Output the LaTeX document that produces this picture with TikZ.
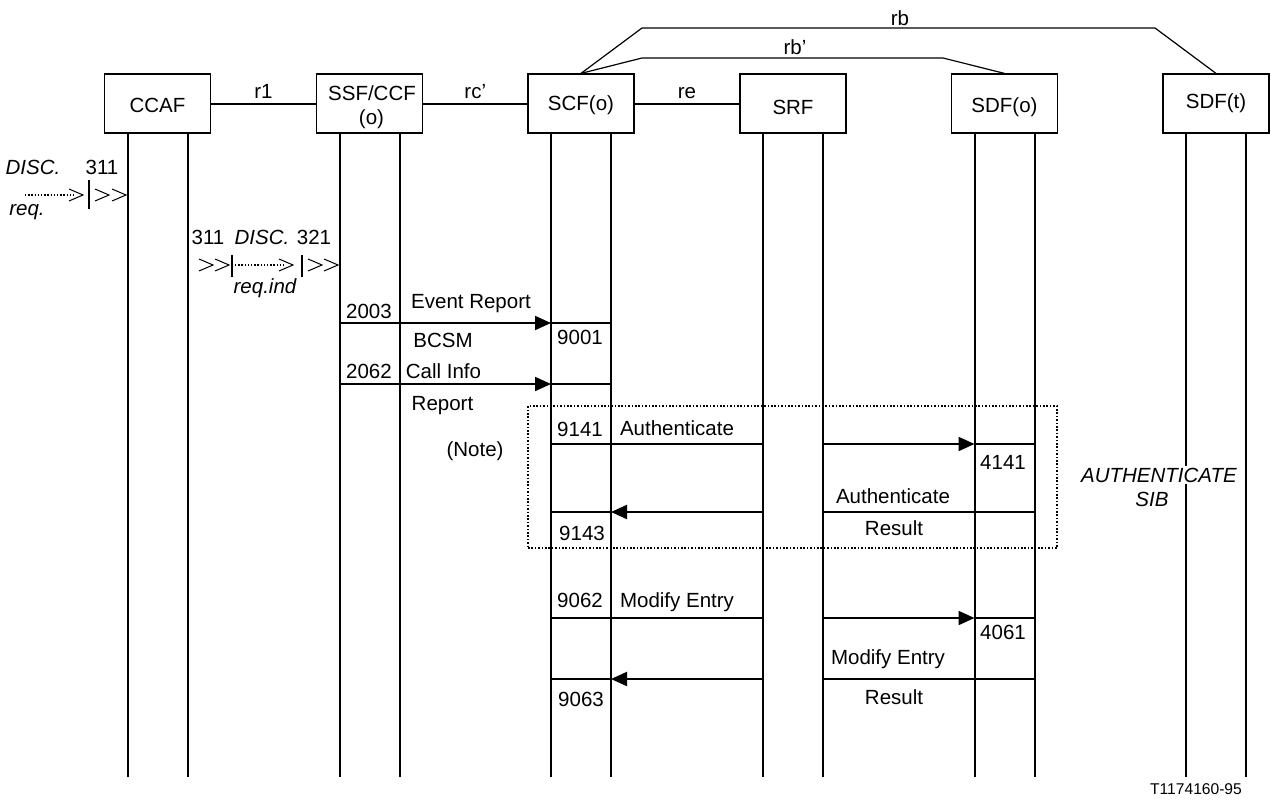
\documentclass[tikz,border=0pt]{standalone}
\usepackage{fontspec}
\setmainfont{Liberation Sans}
\usetikzlibrary{arrows.meta}
\newcommand\mainfs{\fontsize{20.5}{25}\selectfont}
\newcommand\smallfs{\fontsize{15.6}{18}\selectfont}
\begin{document}
\begin{tikzpicture}[x=1pt,y=-1pt,
  fe/.style={draw,line width=1.2pt,minimum width=106pt,minimum height=59pt,inner sep=0pt,font=\mainfs,text depth=0pt},
  life/.style={line width=2pt},
  msg/.style={line width=2pt},
  tipd/.style={-{Triangle[length=16pt,width=14pt]}},
  rel/.style={line width=2pt},
  rbl/.style={line width=1.2pt},
  lbl/.style={inner sep=0pt,font=\mainfs,text height=14.7pt,text depth=0pt},
  ilbl/.style={lbl,font=\mainfs\itshape},
  notebox/.style={draw,line width=1.6pt,dash pattern=on 1.6pt off 1.8pt,minimum width=529pt,minimum height=142pt,inner sep=0pt},
  dotl/.style={line width=1.4pt,dash pattern=on 1.4pt off 1.8pt},
  bar/.style={line width=2pt},
  chevron/.pic={\draw[line width=1pt] (-14,-6) -- (0,0) -- (-14,6);}
]
\fill[white] (0,0) rectangle (1271,800);
\useasboundingbox (0,0) rectangle (1271,800);

% functional entities
\node[fe,text height=17.7pt] (ccaf) at (157.5,103.5) {CCAF};
\node[fe] (ssf) at (369.5,103.5) {};
\node[lbl] (ssft1) at (372,93.5) {SSF/CCF};
\node[lbl] (ssft2) at (371.5,117) {(o)};
\node[fe,text height=13.7pt] (scf) at (581,103.5) {SCF(o)};
\node[fe,text height=21.7pt] (srf) at (793,103.5) {SRF};
\node[fe,text height=17.7pt] (sdfo) at (1004.5,103.5) {SDF(o)};
\node[fe,text height=9.7pt] (sdft) at (1216,103.5) {SDF(t)};

% relationships
\draw[rel] (ccaf.east) -- node[lbl,pos=0.5,yshift=12pt] (r1) {r1} (ssf.west);
\draw[rel] (ssf.east) -- node[lbl,pos=0.5,yshift=12pt] (rc) {rc'} (scf.west);
\draw[rel] (scf.east) -- node[lbl,pos=0.5,yshift=12pt] (re) {re} (srf.west);
\coordinate (rbA) at (642,28);
\coordinate (rbB) at (1155,28);
\coordinate (rbpA) at (642,58);
\coordinate (rbpB) at (943,58);
\draw[rbl] (scf.north) -- (rbA) -- (rbB) -- (sdft.north);
\draw[rbl] (scf.north) -- (rbpA) -- (rbpB) -- (sdfo.north);
\node[lbl] (rb) at (900,18) {rb};
\node[lbl] (rbp) at (795,47) {rb'};

% lifelines
\coordinate (bot) at (0,777);
\foreach \b in {ccaf,ssf,scf,srf,sdfo,sdft}{
  \coordinate (\b L) at ([xshift=-30pt]\b.south);
  \coordinate (\b R) at ([xshift=30pt]\b.south);
  \draw[life] (\b L) -- (\b L |- bot);
  \draw[life] (\b R) -- (\b R |- bot);
}

% note box
\node[notebox] (note) at (792.5,477) {};
\node[lbl] (notet) at (475,449) {(Note)};

% left side: DISC. req.
\node[ilbl] (disc1) at (33,167) {DISC.};
\node[lbl] (n311a) at (102,167) {311};
\node[ilbl] (req1) at (27,208) {req.};
\coordinate (d1a) at (25,195);
\coordinate (d1b) at (76,195);
\draw[dotl] (d1a) -- (d1b);
\pic at (83,195) {chevron};
\coordinate (b1t) at (89,180);
\coordinate (b1b) at (89,209);
\draw[bar] (b1t) -- (b1b);
\pic at (109,195) {chevron};
\pic at (126,195) {chevron};

\node[lbl] (n311b) at (208,237) {311};
\node[ilbl] (disc2) at (262,237) {DISC.};
\node[lbl] (n321) at (314,237) {321};
\node[ilbl] (reqind) at (265,286) {req.ind};
\pic at (213,265) {chevron};
\pic at (229,265) {chevron};
\coordinate (b2t) at (232,255);
\coordinate (b2b) at (232,277);
\draw[bar] (b2t) -- (b2b);
\coordinate (d2a) at (235,265);
\coordinate (d2b) at (286,265);
\draw[dotl] (d2a) -- (d2b);
\pic at (293,265) {chevron};
\coordinate (b3t) at (302,255);
\coordinate (b3b) at (302,277);
\draw[bar] (b3t) -- (b3b);
\pic at (322,265) {chevron};
\pic at (338,265) {chevron};

% message rows
\coordinate (m1) at (0,323);
\coordinate (m2) at (0,384);
\coordinate (m3) at (0,444);
\coordinate (m4) at (0,512);
\coordinate (m5) at (0,618);
\coordinate (m6) at (0,679);

% Event Report BCSM
\draw[msg,tipd] (ssfL |- m1) -- (scfL |- m1);
\draw[msg] (scfL |- m1) -- (scfR |- m1);
\node[lbl] (t2003) at (369,311) {2003};
\node[lbl] (ter) at (471,301) {Event Report};
\node[lbl] (tbcsm) at (443,340) {BCSM};
\node[lbl] (t9001) at (580,337) {9001};

% Call Info Report
\draw[msg,tipd] (ssfL |- m2) -- (scfL |- m2);
\draw[msg] (scfL |- m2) -- (scfR |- m2);
\node[lbl] (t2062) at (369,371) {2062};
\node[lbl] (tci) at (443.5,371) {Call Info};
\node[lbl] (trep) at (442.5,403) {Report};

% Authenticate
\draw[msg] (scfL |- m3) -- (srfL |- m3);
\draw[msg,tipd] (srfR |- m3) -- (sdfoL |- m3);
\draw[msg] (sdfoL |- m3) -- (sdfoR |- m3);
\node[lbl] (t9141) at (580,429) {9141};
\node[lbl] (tau) at (677,428) {Authenticate};
\node[lbl] (t4141) at (1003,462) {4141};

% Authenticate Result
\draw[msg] (sdfoR |- m4) -- (srfR |- m4);
\draw[msg,tipd] (srfL |- m4) -- (scfR |- m4);
\draw[msg] (scfR |- m4) -- (scfL |- m4);
\node[lbl] (tau2) at (893,496) {Authenticate};
\node[lbl] (tres1) at (894,528) {Result};
\node[lbl] (t9143) at (582,533) {9143};

% Modify Entry
\draw[msg] (scfL |- m5) -- (srfL |- m5);
\draw[msg,tipd] (srfR |- m5) -- (sdfoL |- m5);
\draw[msg] (sdfoL |- m5) -- (sdfoR |- m5);
\node[lbl] (t9062) at (580,600) {9062};
\node[lbl] (tme) at (677,600) {Modify Entry};
\node[lbl] (t4061) at (1003,632) {4061};

% Modify Entry Result
\draw[msg] (sdfoR |- m6) -- (srfR |- m6);
\draw[msg,tipd] (srfL |- m6) -- (scfR |- m6);
\draw[msg] (scfR |- m6) -- (scfL |- m6);
\node[lbl] (tme2) at (888,657) {Modify Entry};
\node[lbl] (tres2) at (894,697) {Result};
\node[lbl] (t9063) at (581,699) {9063};

% SIB
\node[ilbl,fill=white,inner sep=1.5pt] (sib1) at (1159,475) {AUTHENTICATE};
\node[ilbl] (sib2) at (1152,499) {SIB};

\node[inner sep=0pt,font=\smallfs,text height=11.2pt,text depth=0pt] (fig) at (1196,789) {T1174160-95};
\end{tikzpicture}
\end{document}
